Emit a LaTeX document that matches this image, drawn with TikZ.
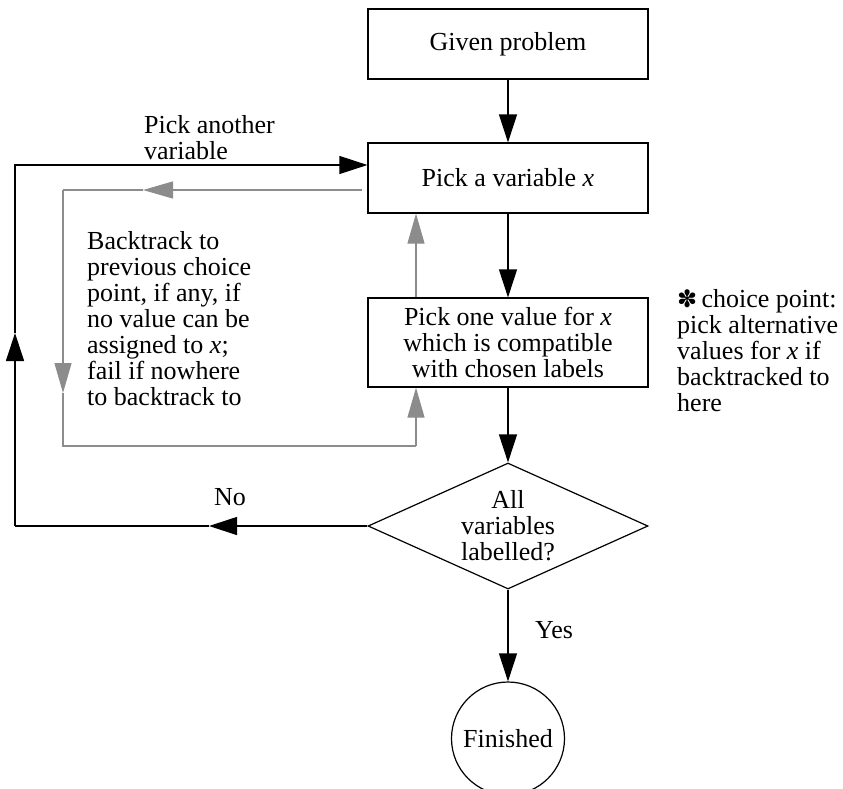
\documentclass[tikz,border=0pt]{standalone}
\usepackage{fontspec}
\setmainfont{Liberation Serif}
\newfontfamily\dejavu{DejaVu Sans}
\usetikzlibrary{arrows.meta,shapes.geometric}
\begin{document}
\begin{tikzpicture}[x=1pt,y=-1pt,
  every node/.style={font=\fontsize{26pt}{26pt}\selectfont},
  boxnode/.style={draw,line width=1.2pt,minimum width=280pt,inner sep=0pt,align=center},
  lbl/.style={inner sep=0pt,align=left},
  arr/.style={line width=1.2pt,-{Triangle[length=28pt,width=18pt]}},
  garr/.style={line width=1.2pt,draw=black!45,-{Triangle[length=30pt,width=17pt]},color=black!45},
  gline/.style={line width=1.2pt,draw=black!45},
  bline/.style={line width=1.2pt}]
\useasboundingbox (0,0) rectangle (843,788);
% nodes
\node[boxnode,minimum height=70pt] (gp) at (508,44) {Given problem};
\node[boxnode,minimum height=70pt] (pv) at (508,178) {Pick a variable \textit{x}};
\node[boxnode,minimum height=89pt] (po) at (508,342.5) {Pick one value for \textit{x}\\which is compatible\\with chosen labels};
\node[draw,line width=1.2pt,diamond,aspect=2.2,minimum width=280pt,minimum height=126pt,inner sep=0pt,align=center] (dm) at (508,526) {All\\variables\\labelled?};
\node[draw,line width=1.2pt,circle,minimum size=113pt,inner sep=0pt] (fin) at (508,738.5) {Finished};
% labels
\node[lbl,anchor=north west] (lpick) at (144,115) {Pick another\\variable};
\node[lbl,anchor=north west] (lback) at (87,231) {Backtrack to\\previous choice\\point, if any, if\\no value can be\\assigned to \textit{x};\\fail if nowhere\\to backtrack to};
\node[lbl,anchor=north west] (lchoice) at (677,289) {{\dejavu\fontsize{24pt}{24pt}\selectfont ✽}\,choice point:\\pick alternative\\values for \textit{x} if\\backtracked to\\here};
\node[lbl,anchor=base] (lno) at (230,505) {No};
\node[lbl,anchor=base west] (lyes) at (535,638) {Yes};
% main flow
\draw[arr] (gp) -- (pv);
\draw[arr] (pv) -- (po);
\draw[arr] (po) -- (dm);
\draw[arr] (dm) -- (fin);
% No loop
\coordinate (noTip) at (209,526);
\coordinate (nl) at (15,526);
\coordinate (upTip) at (15,333);
\coordinate (tl) at (15,165);
\draw[arr] (dm.west) -- (noTip);
\draw[bline] (noTip) -- (nl);
\draw[arr] (nl) -- (upTip);
\draw[arr] (upTip) -- (tl) -- (tl -| pv.west);
% backtrack loop (gray)
\coordinate (gstart) at (362,190);
\coordinate (gTipL) at (143,190);
\coordinate (gtl) at (63,190);
\coordinate (gTipD) at (63,393);
\coordinate (gbl) at (63,446);
\coordinate (gbr) at (416,446);
\draw[garr] (gstart) -- (gTipL);
\draw[gline] (gTipL) -- (gtl);
\draw[garr] (gtl) -- (gTipD);
\draw[gline] (gTipD) -- (gbl) -- (gbr);
\draw[garr] (gbr) -- (gbr |- po.south);
\draw[garr] (gbr |- po.north) -- (gbr |- pv.south);
\end{tikzpicture}
\end{document}
